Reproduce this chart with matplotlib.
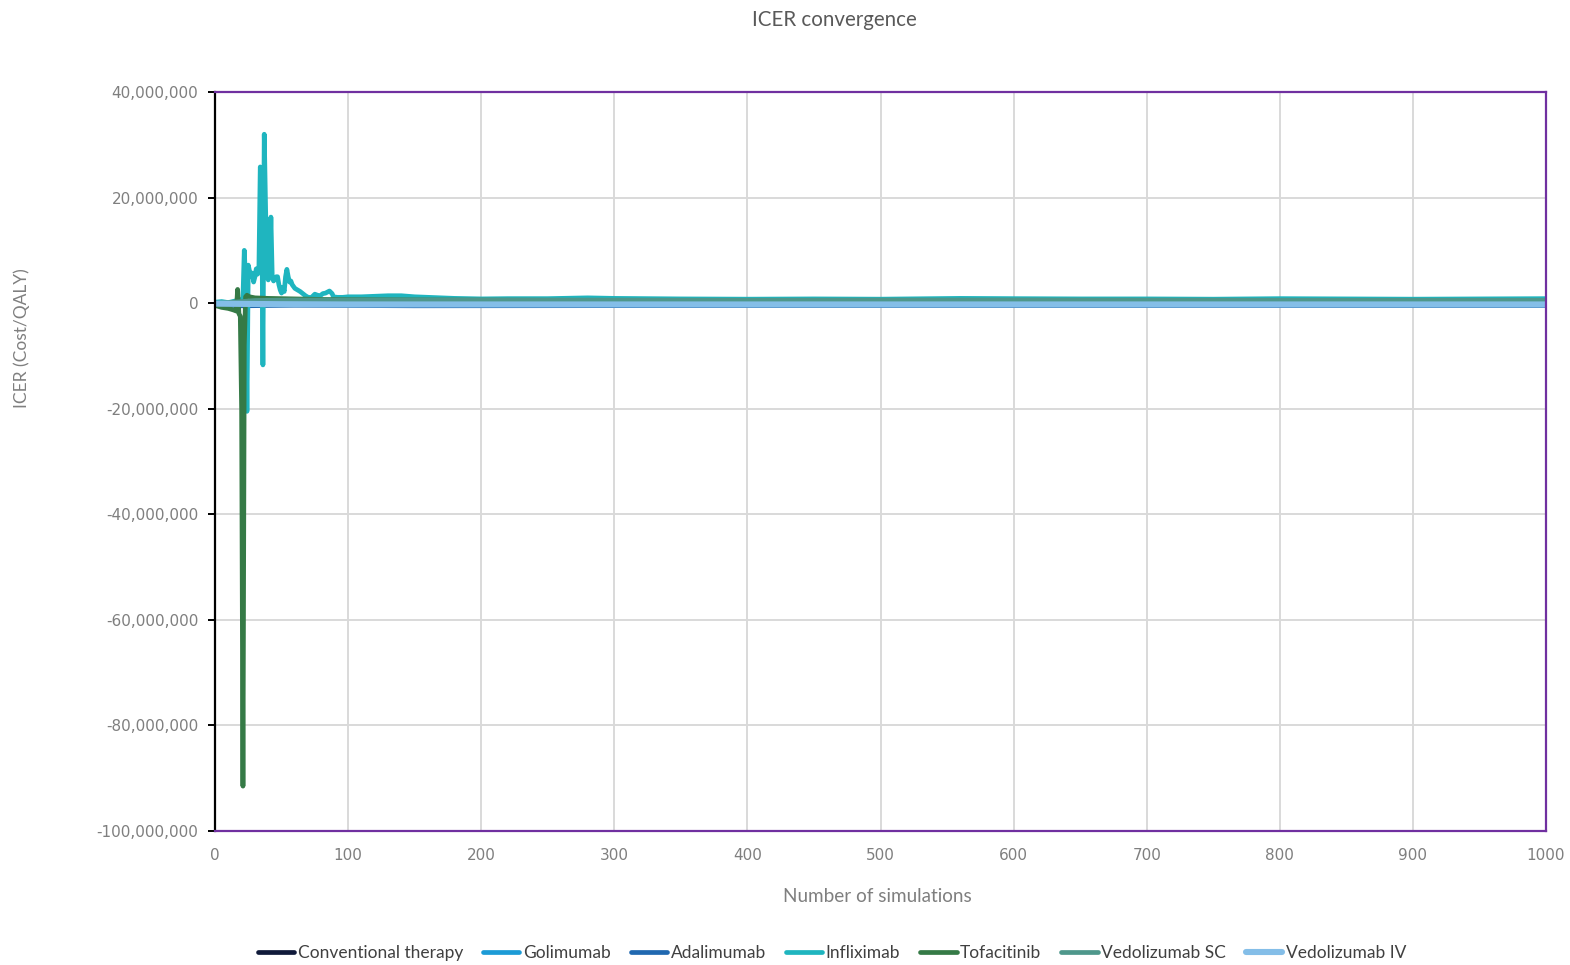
import matplotlib
matplotlib.use("Agg")
import matplotlib.pyplot as plt
from matplotlib.ticker import FuncFormatter

# ICER (cost per QALY, in millions) against number of simulations
series_names = ["Conventional therapy", "Golimumab", "Adalimumab", "Infliximab",
                "Tofacitinib", "Vedolizumab SC", "Vedolizumab IV"]

conventional_x = [1, 1000]
conventional_y = [0.0, 0.0]

golimumab_x = [1, 20, 60, 150, 400, 1000]
golimumab_y = [-0.1, -0.2, -0.1, -0.15, -0.1, -0.1]

adalimumab_x = [1, 20, 60, 150, 400, 1000]
adalimumab_y = [-0.3, -0.5, -0.4, -0.5, -0.45, -0.45]

infliximab_x = [1, 5, 10, 15, 19, 21, 22, 23, 24, 25, 26, 27, 28, 29, 30, 31, 32, 33,
                34, 35, 36, 37, 38, 39, 40, 41, 42, 43, 44, 45, 46, 47, 48, 49, 50,
                51, 52, 53, 54, 55, 56, 57, 58, 60, 62, 64, 66, 68, 70, 71, 73, 75,
                77, 79, 81, 83, 86, 88, 89, 92, 96, 100, 110, 120, 130, 140, 150,
                160, 170, 180, 200, 220, 250, 280, 300, 350, 400, 450, 500, 560,
                600, 650, 700, 750, 800, 850, 900, 950, 1000]
infliximab_y = [0.2, 0.3, 0.1, 0.4, 0.5, 1.0, 10.0, 4.0, -20.5, 7.2, 6.0, 5.0, 5.7,
                4.0, 5.0, 6.5, 5.5, 6.8, 25.8, 24.5, -11.7, 32.0, 18.0, 6.0, 4.4,
                5.5, 16.3, 5.0, 4.2, 4.6, 5.0, 5.0, 3.5, 2.5, 1.9, 3.0, 2.2, 5.0,
                6.4, 5.0, 4.0, 4.2, 3.5, 2.8, 2.5, 2.2, 1.8, 1.4, 1.1, 0.9, 1.2,
                1.7, 1.5, 1.4, 1.8, 1.9, 2.3, 1.8, 1.2, 1.1, 1.1, 1.2, 1.2, 1.3,
                1.4, 1.4, 1.2, 1.1, 1.0, 0.9, 0.8, 0.85, 0.85, 1.0, 0.9, 0.8,
                0.75, 0.8, 0.75, 0.9, 0.85, 0.8, 0.8, 0.75, 0.85, 0.8, 0.75, 0.8, 0.85]

tofacitinib_x = [1, 5, 10, 14, 16, 17, 18, 19, 20, 21, 22, 23, 24, 26, 30, 40, 60,
                 80, 100, 150, 200, 300, 500, 700, 1000]
tofacitinib_y = [-0.5, -0.8, -1.0, -1.3, -1.5, 2.6, -2.0, -2.5, -20.0, -91.5, -8.0,
                 1.2, 1.5, 1.2, 1.0, 0.9, 0.8, 0.7, 0.65, 0.6, 0.55, 0.5, 0.45,
                 0.45, 0.45]

vedolizumab_sc_x = [1, 10, 20, 30, 60, 100, 200, 400, 600, 800, 1000]
vedolizumab_sc_y = [0.0, 0.1, 0.3, 0.5, 0.6, 0.6, 0.6, 0.55, 0.6, 0.55, 0.55]

vedolizumab_iv_x = [1, 50, 100, 300, 600, 1000]
vedolizumab_iv_y = [-0.1, -0.2, -0.25, -0.25, -0.25, -0.25]

series_x = [conventional_x, golimumab_x, adalimumab_x, infliximab_x,
            tofacitinib_x, vedolizumab_sc_x, vedolizumab_iv_x]
series_y = [conventional_y, golimumab_y, adalimumab_y, infliximab_y,
            tofacitinib_y, vedolizumab_sc_y, vedolizumab_iv_y]
colors = ["#101A3A", "#1C9BD6", "#2068B0", "#1FB5BF", "#357A46", "#4E978B", "#84BEE8"]
widths = [3.4, 3.4, 3.4, 3.4, 3.4, 3.4, 4.4]

y_ticks = [-100, -80, -60, -40, -20, 0, 20, 40]
x_ticks = [0, 100, 200, 300, 400, 500, 600, 700, 800, 900, 1000]

text_font = ["Lato", "DejaVu Sans"]
tick_gray = "#7F7F7F"

fig = plt.figure(figsize=(15.7, 9.65), dpi=100)
ax = fig.add_axes([215 / 1570, 1 - 831 / 965, (1546 - 215) / 1570, (831 - 92) / 965])

for xs, ys, name, c, lw in zip(series_x, series_y, series_names, colors, widths):
    ax.plot(xs, [v * 1e6 for v in ys], color=c, lw=lw, label=name,
            solid_joinstyle="round", solid_capstyle="round")

ax.set_xlim(0, 1000)
ax.set_ylim(-100e6, 40e6)
ax.set_xticks(x_ticks)
ax.set_yticks([v * 1e6 for v in y_ticks])
ax.yaxis.set_major_formatter(FuncFormatter(lambda v, p: f"{v:,.0f}"))

ax.grid(True, color="#D9D9D9", lw=1.4)
ax.set_axisbelow(True)

purple = "#7030A0"
for side in ("top", "right", "bottom"):
    ax.spines[side].set_color(purple)
    ax.spines[side].set_linewidth(1.6)
ax.spines["left"].set_color("black")
ax.spines["left"].set_linewidth(1.6)

ax.tick_params(axis="y", direction="out", length=5, width=1.4, color="black",
               labelsize=11, labelcolor=tick_gray, pad=7)
ax.tick_params(axis="x", length=0, labelsize=11, labelcolor=tick_gray, pad=12)

# horizontal axis crossing at zero: tick marks only
zero_frac = (0 - (-100e6)) / 140e6
sec = ax.secondary_xaxis(zero_frac)
sec.set_xticks(x_ticks)
sec.tick_params(axis="x", direction="out", length=4, width=1.4, color="black",
                labelbottom=False, labeltop=False)
sec.spines["bottom"].set_visible(False)
sec.spines["top"].set_visible(False)

fig.text(834 / 1570, 1 - 20 / 965, "ICER convergence", ha="center", va="center",
         fontsize=14.8, color="#595959", family=text_font)
fig.text(877 / 1570, 1 - 896 / 965, "Number of simulations", ha="center", va="center",
         fontsize=13.6, color=tick_gray, family=text_font)
fig.text(22 / 1570, 1 - 338 / 965, "ICER (Cost/QALY)", ha="center", va="center",
         rotation=90, fontsize=12.5, color=tick_gray, family=text_font)

leg = fig.legend(loc="center", bbox_to_anchor=(832 / 1570, 1 - 953 / 965), ncol=7,
                 frameon=False, handlelength=2.1, handletextpad=0.2,
                 columnspacing=1.15, prop={"family": text_font, "size": 12.5})
for t in leg.get_texts():
    t.set_color("#404040")

fig.savefig("out.png", dpi=100)
